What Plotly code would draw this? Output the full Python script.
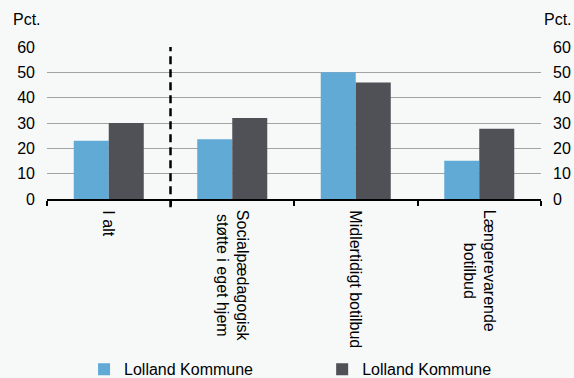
import plotly.graph_objects as go

categories = ["I alt", "Socialpædagogisk<br>støtte i eget hjem", "Midlertidigt botilbud", "Længerevarende<br>botilbud"]
series1_name = "Lolland Kommune"
series1 = [23.0, 23.6, 50.0, 15.1]
series2_name = "Lolland Kommune"
series2 = [30.0, 32.0, 46.0, 27.7]
y_ticks = [0, 10, 20, 30, 40, 50, 60]

FONT = "Liberation Sans, Arial, sans-serif"
BG = "#f7f9f9"
FS = 16

fig = go.Figure()
fig.add_trace(go.Bar(x=categories, y=series1, name=series1_name, legend="legend",
                     marker=dict(color="#62aad6", line=dict(width=0))))
fig.add_trace(go.Bar(x=categories, y=series2, name=series2_name, legend="legend2",
                     marker=dict(color="#505156", line=dict(width=0))))
# invisible trace for the mirrored right axis
fig.add_trace(go.Scatter(x=categories, y=series1, yaxis="y2", mode="markers", marker=dict(opacity=0),
                         showlegend=False, hoverinfo="skip"))

annotations = [
    dict(text="Pct.", xref="paper", yref="paper", x=-0.072, y=1.18, xanchor="left", yanchor="middle",
         showarrow=False, font=dict(size=FS)),
    dict(text="Pct.", xref="paper", yref="paper", x=1.003, y=1.18, xanchor="left", yanchor="middle",
         showarrow=False, font=dict(size=FS)),
]
for c in categories:
    annotations.append(dict(text=c, xref="x", yref="paper", x=c, y=-0.06, xanchor="center", yanchor="top",
                            textangle=90, align="center", showarrow=False, font=dict(size=FS)))

fig.update_layout(
    template="none",
    width=574, height=378,
    margin=dict(l=47, r=33, t=47, b=179, autoexpand=False),
    paper_bgcolor=BG, plot_bgcolor=BG,
    font=dict(family=FONT, size=FS, color="#000000"),
    barmode="group", bargap=0.433, bargroupgap=0,
    showlegend=True,
    legend=dict(x=0.075, y=-1.12, xanchor="left", yanchor="middle", font=dict(size=FS),
                bgcolor="rgba(0,0,0,0)", itemwidth=30),
    legend2=dict(x=0.557, y=-1.12, xanchor="left", yanchor="middle", font=dict(size=FS),
                 bgcolor="rgba(0,0,0,0)", itemwidth=30),
    xaxis=dict(type="category", range=[-0.5, 3.5], tickson="boundaries", ticks="outside", ticklen=5,
               tickwidth=1.5, tickcolor="#000", showline=True, linecolor="#000", linewidth=2,
               showticklabels=False, showgrid=False, zeroline=False, automargin=False),
    yaxis=dict(range=[0, 60], tickvals=y_ticks, showgrid=True, gridcolor="#a3a3a3", gridwidth=1,
               zeroline=False, showline=False, ticks="", ticklabelstandoff=11, automargin=False),
    yaxis2=dict(range=[0, 60], tickvals=y_ticks, overlaying="y", side="right", showgrid=False,
                zeroline=False, showline=False, ticks="", ticklabelstandoff=11, automargin=False),
    annotations=annotations,
    shapes=[
        dict(type="line", xref="x", yref="paper", x0=0.5, x1=0.5, y0=-0.055, y1=1.0,
             line=dict(color="#000", width=2.5, dash="8px,5px")),
    ],
)

fig.write_html("out.html", config={"displayModeBar": False},
               post_script="document.body.style.margin='0';document.body.style.overflow='hidden';")
